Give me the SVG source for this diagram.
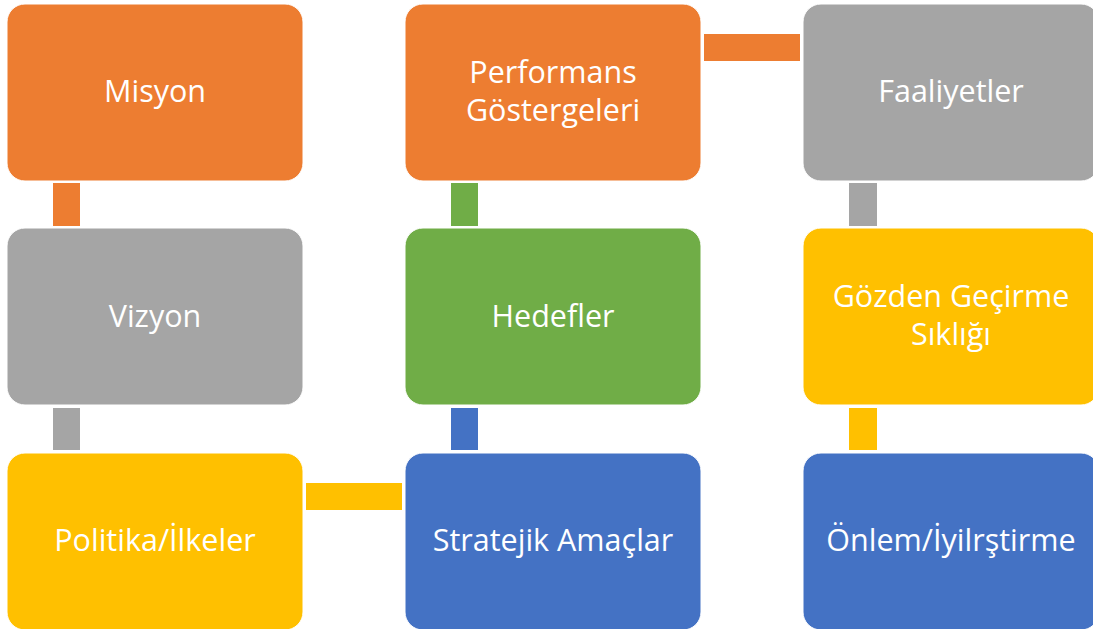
<svg xmlns="http://www.w3.org/2000/svg" width="1093" height="629" viewBox="0 0 1093 629">
<style>
.box{stroke:#ffffff;stroke-width:1}
.t{font-family:"Open Sans","Noto Sans","DejaVu Sans",sans-serif;font-size:30.5px;fill:#ffffff;text-anchor:middle}
.or{fill:#ED7D31}.gr{fill:#A5A5A5}.ye{fill:#FFC000}.bl{fill:#4472C4}.gn{fill:#70AD47}
</style>
<rect width="1093" height="629" fill="#ffffff"/>
<g id="connectors">
<rect class="or" x="53" y="183" width="27" height="43"/>
<rect class="gr" x="53" y="408" width="27" height="42"/>
<rect class="ye" x="306" y="483" width="96" height="27"/>
<rect class="bl" x="451" y="408" width="27" height="42"/>
<rect class="gn" x="451" y="183" width="27" height="43"/>
<rect class="or" x="704" y="34" width="96" height="27"/>
<rect class="gr" x="849" y="183" width="28" height="43"/>
<rect class="ye" x="849" y="408" width="28" height="42"/>
</g>
<g id="misyon"><rect class="box or" x="7" y="4" width="296" height="177" rx="18"/><text class="t" x="155" y="102">Misyon</text></g>
<g id="vizyon"><rect class="box gr" x="7" y="228" width="296" height="177" rx="18"/><text class="t" x="155" y="327">Vizyon</text></g>
<g id="politika"><rect class="box ye" x="7" y="453" width="296" height="177" rx="18"/><text class="t" x="155" y="551">Politika/İlkeler</text></g>
<g id="performans"><rect class="box or" x="405" y="4" width="296" height="177" rx="18"/><text class="t" x="553" y="83">Performans</text><text class="t" x="553" y="121">Göstergeleri</text></g>
<g id="hedefler"><rect class="box gn" x="405" y="228" width="296" height="177" rx="18"/><text class="t" x="553" y="327">Hedefler</text></g>
<g id="stratejik"><rect class="box bl" x="405" y="453" width="296" height="177" rx="18"/><text class="t" x="553" y="551">Stratejik Amaçlar</text></g>
<g id="faaliyetler"><rect class="box gr" x="803" y="4" width="296" height="177" rx="18"/><text class="t" x="951" y="102">Faaliyetler</text></g>
<g id="gozden"><rect class="box ye" x="803" y="228" width="296" height="177" rx="18"/><text class="t" x="951" y="307">Gözden Geçirme</text><text class="t" x="951" y="345">Sıklığı</text></g>
<g id="onlem"><rect class="box bl" x="803" y="453" width="296" height="177" rx="18"/><text class="t" x="951" y="551">Önlem/İyilrştirme</text></g>
</svg>
